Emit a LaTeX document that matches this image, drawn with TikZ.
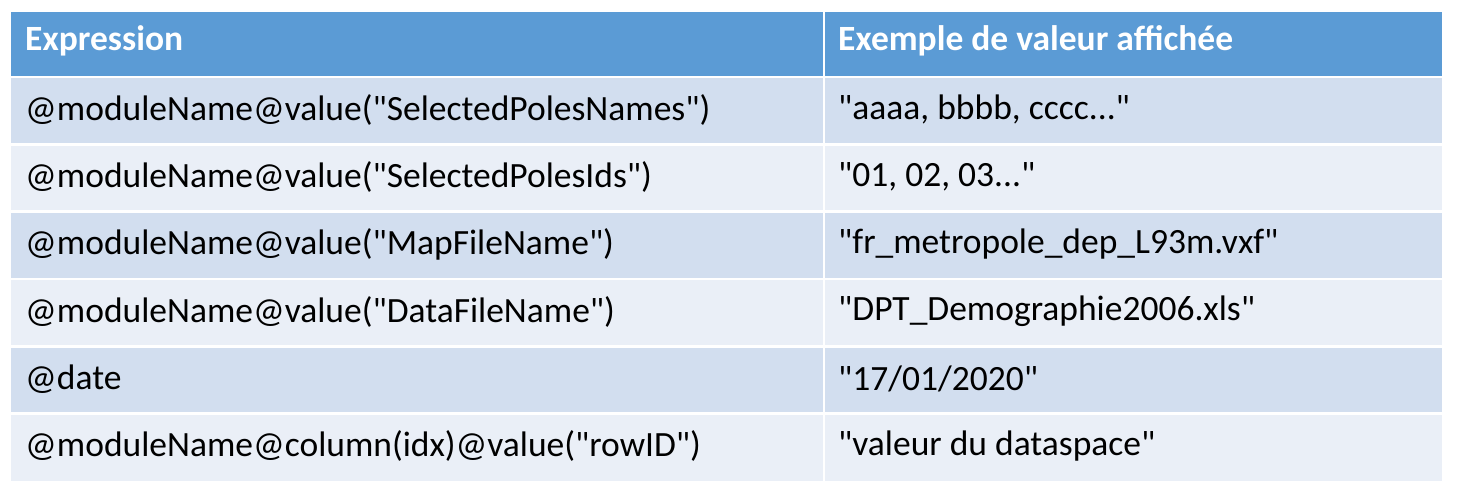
\documentclass[tikz,border=0pt]{standalone}
\usepackage{fontspec}
\setmainfont{Carlito}[Ligatures=TeXOff]
\definecolor{hdr}{HTML}{5B9BD5}
\definecolor{rowA}{HTML}{D2DEEF}
\definecolor{rowB}{HTML}{EAEFF7}
\begin{document}
\begin{tikzpicture}[x=1pt,y=-1pt,
  cell/.style={anchor=west,inner sep=0pt,font=\fontsize{35.5}{42}\selectfont},
  hcell/.style={cell,text=white,font=\fontsize{35.5}{42}\selectfont\bfseries}]
\useasboundingbox (0,0) rectangle (1473,494);
\fill[white] (0,0) rectangle (1473,494);
% header
\fill[hdr] (11,12) rectangle (1442,77);
\def\ys{{77,144.3,211.7,279,346.3,413.7,481}}
\foreach \i in {0,...,5}{
  \pgfmathsetmacro\ya{\ys[\i]}
  \pgfmathsetmacro\yb{\ys[\i+1]}
  \ifodd\i \fill[rowB] (11,\ya) rectangle (1442,\yb);
  \else \fill[rowA] (11,\ya) rectangle (1442,\yb); \fi
}
\foreach \y in {77,144.3,211.7,279,346.3,413.7}{
  \draw[white,line width=2.5pt] (11,\y) -- (1442,\y);
}
\draw[white,line width=2.5pt] (824,12) -- (824,481);
\node[hcell] (h1) at (25,41) {Expression};
\node[hcell] (h2) at (838,41) {Exemple de valeur affichée};
\node[cell] (a1) at (25,109.6) {@moduleName@value("SelectedPolesNames")};
\node[cell] (b1) at (838,109.6) {"aaaa, bbbb, cccc..."};
\node[cell] (a2) at (25,177) {@moduleName@value("SelectedPolesIds")};
\node[cell] (b2) at (838,177) {"01, 02, 03..."};
\node[cell] (a3) at (25,244.3) {@moduleName@value("MapFileName")};
\node[cell] (b3) at (838,244.3) {"fr\_metropole\_dep\_L93m.vxf"};
\node[cell] (a4) at (25,311.7) {@moduleName@value("DataFileName")};
\node[cell] (b4) at (838,311.7) {"DPT\_Demographie2006.xls"};
\node[cell] (a5) at (25,379) {@date};
\node[cell] (b5) at (838,379) {"17/01/2020"};
\node[cell] (a6) at (25,446.3) {@moduleName@column(idx)@value("rowID")};
\node[cell] (b6) at (838,446.3) {"valeur du dataspace"};
\end{tikzpicture}
\end{document}
